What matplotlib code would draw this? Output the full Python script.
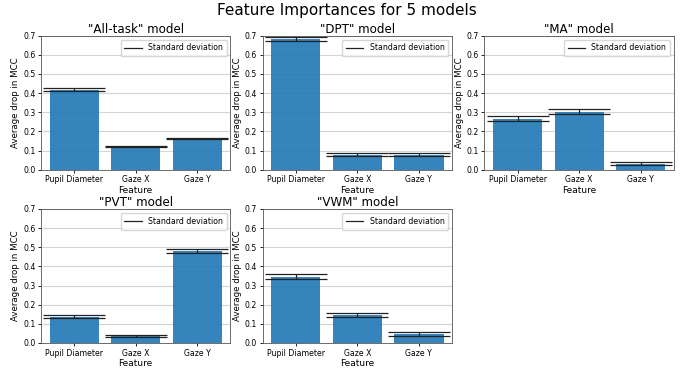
import numpy as np
import matplotlib
matplotlib.use("Agg")
import matplotlib.pyplot as plt
from matplotlib.lines import Line2D

features = ["Pupil Diameter", "Gaze X", "Gaze Y"]
models = ["All-task", "DPT", "MA", "PVT", "VWM"]

# mean drop in MCC per feature, and its standard deviation
all_task_mean = [0.418, 0.122, 0.162]
all_task_std = [0.007, 0.004, 0.003]
dpt_mean = [0.683, 0.079, 0.079]
dpt_std = [0.009, 0.006, 0.006]
ma_mean = [0.266, 0.302, 0.032]
ma_std = [0.013, 0.013, 0.006]
pvt_mean = [0.138, 0.038, 0.480]
pvt_std = [0.008, 0.005, 0.011]
vwm_mean = [0.347, 0.147, 0.047]
vwm_std = [0.014, 0.011, 0.010]

means = [all_task_mean, dpt_mean, ma_mean, pvt_mean, vwm_mean]
stds = [all_task_std, dpt_std, ma_std, pvt_std, vwm_std]

fig, axs = plt.subplots(2, 3, figsize=(6.94, 3.68), dpi=100)
fig.subplots_adjust(left=0.059, right=0.971, top=0.903, bottom=0.068,
                    wspace=0.17, hspace=0.293)
fig.suptitle("Feature Importances for 5 models", fontsize=11, y=0.992)

x = np.arange(len(features))
for ax, name, m, s in zip(axs.flat, models, means, stds):
    ax.set_axisbelow(True)
    ax.grid(axis="y", color="#d4d4d4", linewidth=0.8)
    ax.bar(x, m, width=0.8, color="#1f77b4", alpha=0.9)
    ax.errorbar(x, m, yerr=s, fmt="none", ecolor="#222222",
                elinewidth=0.9, capsize=22, capthick=0.9)
    ax.set_xticks(x)
    ax.set_xticklabels(features)
    ax.set_ylim(0, 0.7)
    ax.set_yticks(np.arange(0, 0.71, 0.1))
    ax.tick_params(labelsize=5.6, length=2.5, width=0.6, pad=1.5)
    for sp in ax.spines.values():
        sp.set_linewidth(0.6)
        sp.set_color("#555555")
    ax.set_title('"%s" model' % name, fontsize=8.6, pad=2)
    ax.set_xlabel("Feature", fontsize=6.5, labelpad=1)
    ax.set_ylabel("Average drop in MCC", fontsize=6.2, labelpad=2)
    handle = Line2D([], [], color="#222222", linewidth=0.9)
    ax.legend([handle], ["Standard deviation"], loc="upper right",
              fontsize=5.6, handlelength=2.2, borderpad=0.5)

axs[1, 2].remove()

fig.savefig("out.png", dpi=100)
